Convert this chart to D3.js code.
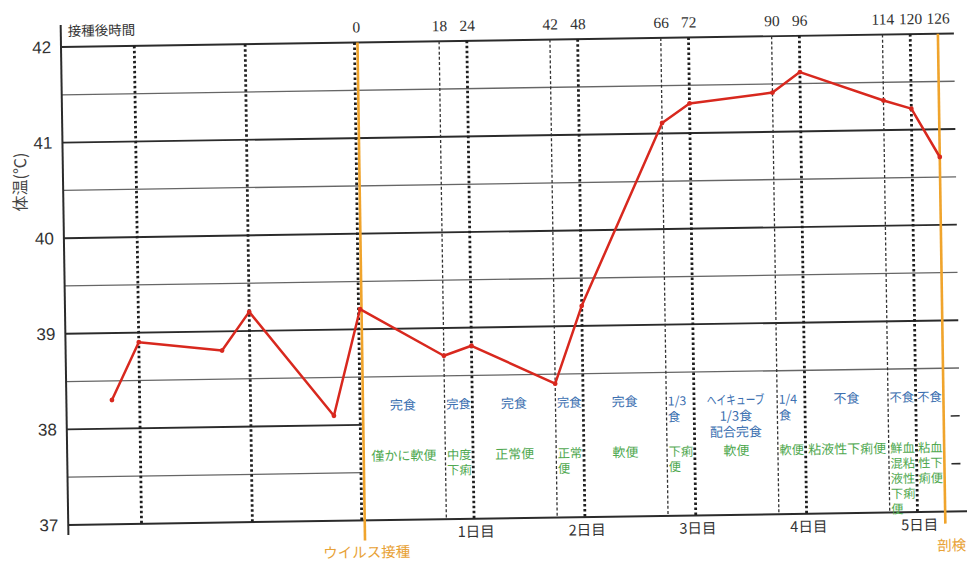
<!DOCTYPE html>
<html><head><meta charset="utf-8">
<script src="https://cdn.jsdelivr.net/npm/d3@7"></script>
<style>body{margin:0;background:#fff} svg{display:block}</style>
</head><body><svg id="c" width="967" height="563"></svg>
<script>
// ---- data ----
const hours = [-54,-48,-30,-24,-6,0,18,24,42,48,66,72,90,96,114,120,126];
const temps = [38.30,38.90,38.80,39.20,38.10,39.21,38.71,38.81,38.40,39.21,41.11,41.31,41.41,41.62,41.31,41.22,40.71];
const topTickHours = [0,18,24,42,48,66,72,90,96,114,120,126];
const yTicks = [37,38,39,40,41,42];
const gridFull = [38.5,39,39.5,40,40.5,41,41.5,42];
const gridShort = [37.5,38];
const preLines = [-48,-24];
const heavyLines = [24,48,72,96,120];
const thinLines = [18,42,66,90,114];
const dayHours = [24,48,72,96,120];
const dayLabels = ["1日目","2日目","3日目","4日目","5日目"];
const segStart = [0,18,24,42,48,66,72,90,96,114,120];
const segEnd   = [18,24,42,48,66,72,90,96,114,120,126];
const food = [["完食"],["完食"],["完食"],["完食"],["完食"],["1/3","食"],["ヘイキューブ","1/3食","配合完食"],["1/4","食"],["不食"],["不食"],["不食"]];
const stool = [["僅かに軟便"],["中度","下痢"],["正常便"],["正常","便"],["軟便"],["下痢","便"],["軟便"],["軟便"],["粘液性下痢便"],["鮮血","混粘","液性","下痢","便"],["粘血","性下","痢便"]];

// ---- drawing ----
const svg = d3.select("#c");
svg.append("rect").attr("width",967).attr("height",563).attr("fill","#fff");
const x = d3.scaleLinear().domain([0,126]).range([295,877]);
const y = d3.scaleLinear().domain([37,42]).range([478,0]);
const g = svg.append("g").attr("transform","translate(61,47) rotate(-0.87)");
const xEnd = x(126)+16;
const CJK = "'Noto Sans CJK JP','Noto Sans',sans-serif";

// horizontal grid
g.selectAll(".gf").data(gridFull).join("line")
  .attr("x1",0).attr("x2",xEnd).attr("y1",d=>y(d)).attr("y2",d=>y(d))
  .attr("stroke",d=>d%1===0?"#2b2b2b":"#666").attr("stroke-width",d=>d%1===0?1.9:1.3);
g.selectAll(".gs").data(gridShort).join("line")
  .attr("x1",0).attr("x2",x(0)).attr("y1",d=>y(d)).attr("y2",d=>y(d))
  .attr("stroke",d=>d%1===0?"#2b2b2b":"#666").attr("stroke-width",d=>d%1===0?1.9:1.3);
g.selectAll(".gst").data(gridShort).join("line")
  .attr("x1",x(126)+7).attr("x2",xEnd).attr("y1",d=>y(d)).attr("y2",d=>y(d))
  .attr("stroke","#2b2b2b").attr("stroke-width",1.6);
g.append("line").attr("x1",0).attr("x2",xEnd+6).attr("y1",y(37)).attr("y2",y(37))
  .attr("stroke","#2b2b2b").attr("stroke-width",2);
// y axis line
g.append("line").attr("x1",0).attr("x2",0).attr("y1",y(42)-22).attr("y2",y(37)+10)
  .attr("stroke","#2b2b2b").attr("stroke-width",2);

// vertical dotted lines
g.selectAll(".vh").data(preLines.concat([0],heavyLines)).join("line")
  .attr("x1",d=>x(d)-(d===0?1.5:0)).attr("x2",d=>x(d)-(d===0?1.5:0))
  .attr("y1",y(42)).attr("y2",y(37))
  .attr("stroke","#1e1e1e").attr("stroke-width",2.8).attr("stroke-dasharray","2.5 2.5");
g.selectAll(".vt").data(thinLines).join("line")
  .attr("x1",d=>x(d)).attr("x2",d=>x(d)).attr("y1",y(42)).attr("y2",y(37))
  .attr("stroke","#333").attr("stroke-width",1.3).attr("stroke-dasharray","3 2.2");

// orange lines
g.append("line").attr("x1",x(0)+1.5).attr("x2",x(0)+1.5).attr("y1",y(42)).attr("y2",y(37)+20)
  .attr("stroke","#f0a42c").attr("stroke-width",2.6);
g.append("line").attr("x1",x(126)).attr("x2",x(126)).attr("y1",y(42)).attr("y2",y(37)+12)
  .attr("stroke","#f0a42c").attr("stroke-width",2.6);

// axes (labels only)
const yAx = g.append("g").attr("transform","translate(-7,0)")
  .call(d3.axisLeft(y).tickValues(yTicks).tickSize(0).tickFormat(d3.format("d")));
yAx.select(".domain").remove();
yAx.selectAll("text").attr("font-family","'Liberation Sans',Arial,sans-serif").attr("font-size",17).attr("fill","#333").attr("dx",0);

const xAx = g.append("g").attr("transform","translate(0,-10)")
  .call(d3.axisTop(x).tickValues(topTickHours).tickSize(0).tickFormat(d3.format("d")));
xAx.select(".domain").remove();
xAx.selectAll("text").attr("font-family","'Liberation Serif','Times New Roman',serif").attr("font-size",15.5).attr("fill","#333").attr("y",0);

g.append("text").attr("x",7).attr("y",-11).text("接種後時間")
  .attr("font-family",CJK).attr("font-size",13.5).attr("fill","#333");

// y title
svg.append("text").attr("transform","translate(26,182) rotate(-90)")
  .attr("text-anchor","middle").text("体温(℃)")
  .attr("font-family",CJK).attr("font-size",16).attr("fill","#444");

// day labels
g.selectAll(".day").data(dayHours).join("text")
  .attr("x",d=>x(d)+2).attr("y",y(37)+13).attr("dy","0.35em")
  .attr("text-anchor","middle").text((d,i)=>dayLabels[i])
  .attr("font-family",CJK).attr("font-size",14.5).attr("fill","#333");

g.append("text").attr("x",x(0)+3).attr("y",y(37)+32).attr("dy","0.35em")
  .attr("text-anchor","middle").text("ウイルス接種")
  .attr("font-family",CJK).attr("font-size",14.5).attr("fill","#e8a236");
g.append("text").attr("x",x(126)+6).attr("y",y(37)+34).attr("dy","0.35em")
  .attr("text-anchor","middle").text("剖検")
  .attr("font-family",CJK).attr("font-size",14.5).attr("fill","#e8a236");

// annotations
const lhFood = 16, lhStool = 15.2;
segStart.forEach((s,i)=>{
  const e = segEnd[i];
  const narrow = (e-s)<=6;
  const ax = narrow ? x(s)+1.5 : x((s+e)/2);
  const anchor = narrow ? "start" : "middle";
  const fs = narrow ? 12.3 : 13;
  food[i].forEach((t,k)=>{
    const tx = g.append("text").attr("x",ax).attr("y",y(38.2)+k*lhFood).attr("dy","0.35em")
      .attr("text-anchor",anchor).text(t)
      .attr("font-family",CJK).attr("font-size",fs).attr("fill","#3b6fb0");
    if(t==="ヘイキューブ") tx.attr("textLength",58).attr("lengthAdjust","spacingAndGlyphs");
  });
  stool[i].forEach((t,k)=>{
    g.append("text").attr("x",ax).attr("y",y(37.67)+k*lhStool).attr("dy","0.35em")
      .attr("text-anchor",anchor).text(t)
      .attr("font-family",CJK).attr("font-size",fs).attr("fill","#4fa84f");
  });
});

// temperature line
const line = d3.line().x((d,i)=>x(hours[i])).y((d,i)=>y(temps[i]));
g.append("path").datum(temps).attr("d",line).attr("fill","none")
  .attr("stroke","#d8281e").attr("stroke-width",2.5).attr("stroke-linejoin","round");
g.selectAll(".pt").data(temps).join("circle")
  .attr("cx",(d,i)=>x(hours[i])).attr("cy",d=>y(d)).attr("r",2.4).attr("fill","#d8281e");
</script></body></html>
